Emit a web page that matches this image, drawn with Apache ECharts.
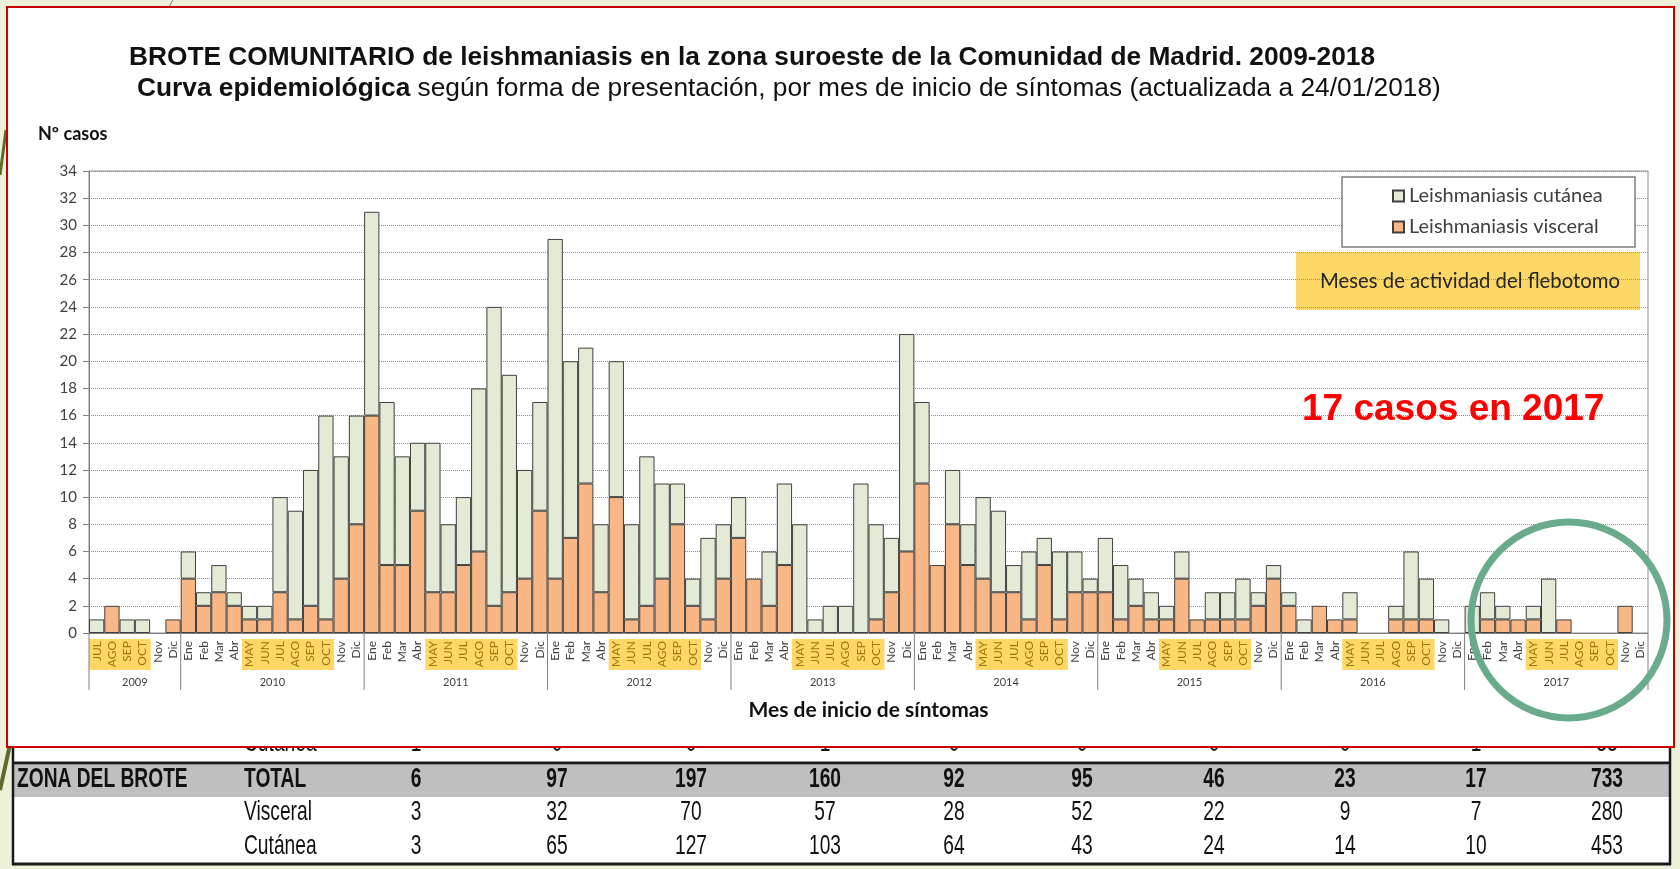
<!DOCTYPE html>
<html>
<head>
<meta charset="utf-8">
<title>Brote comunitario de leishmaniasis</title>
<script src="https://cdn.jsdelivr.net/npm/echarts@6/dist/echarts.min.js"></script>
<style>
html, body { margin: 0; padding: 0; background: #edf1da; }
#main { width: 1680px; height: 869px; }
</style>
</head>
<body>
<div id="main"></div>
<script>
// month labels (2009 starts in July)
var meses2009 = ['JUL', 'AGO', 'SEP', 'OCT', 'Nov', 'Dic'];
var mesesAnio = ['Ene', 'Feb', 'Mar', 'Abr', 'MAY', 'JUN', 'JUL', 'AGO', 'SEP', 'OCT', 'Nov', 'Dic'];
var mesesActividad = ['MAY', 'JUN', 'JUL', 'AGO', 'SEP', 'OCT'];
var anios = ['2009', '2010', '2011', '2012', '2013', '2014', '2015', '2016', '2017'];

// visceral cases per month
var visc2009 = [0, 2, 0, 0, 0, 1];
var visc2010 = [4, 2, 3, 2, 1, 1, 3, 1, 2, 1, 4, 8];
var visc2011 = [16, 5, 5, 9, 3, 3, 5, 6, 2, 3, 4, 9];
var visc2012 = [4, 7, 11, 3, 10, 1, 2, 4, 8, 2, 1, 4];
var visc2013 = [7, 4, 2, 5, 0, 0, 0, 0, 0, 1, 3, 6];
var visc2014 = [11, 5, 8, 5, 4, 3, 3, 1, 5, 1, 3, 3];
var visc2015 = [3, 1, 2, 1, 1, 4, 1, 1, 1, 1, 2, 4];
var visc2016 = [2, 0, 2, 1, 1, 0, 0, 1, 1, 1, 0, 0];
var visc2017 = [0, 1, 1, 1, 1, 0, 1, 0, 0, 0, 2, 0];

// cutaneous cases per month
var cut2009 = [1, 0, 1, 1, 0, 0];
var cut2010 = [2, 1, 2, 1, 1, 1, 7, 8, 10, 15, 9, 8];
var cut2011 = [15, 12, 8, 5, 11, 5, 5, 12, 22, 16, 8, 8];
var cut2012 = [25, 13, 10, 5, 10, 7, 11, 7, 3, 2, 6, 4];
var cut2013 = [3, 0, 4, 6, 8, 1, 2, 2, 11, 7, 4, 16];
var cut2014 = [6, 0, 4, 3, 6, 6, 2, 5, 2, 5, 3, 1];
var cut2015 = [4, 4, 2, 2, 1, 2, 0, 2, 2, 3, 1, 1];
var cut2016 = [1, 1, 0, 0, 2, 0, 0, 1, 5, 3, 1, 0];
var cut2017 = [2, 2, 1, 0, 1, 4, 0, 0, 0, 0, 0, 0];

// table under the chart
var tablaTotal = ['6', '97', '197', '160', '92', '95', '46', '23', '17', '733'];
var tablaVisceral = ['3', '32', '70', '57', '28', '52', '22', '9', '7', '280'];
var tablaCutanea = ['3', '65', '127', '103', '64', '43', '24', '14', '10', '453'];
var tablaOculta = ['1', '0', '0', '1', '0', '0', '0', '0', '1', '33'];

var categorias = meses2009.slice();
var visceral = visc2009.slice();
var cutanea = cut2009.slice();
var viscAnios = [visc2010, visc2011, visc2012, visc2013, visc2014, visc2015, visc2016, visc2017];
var cutAnios = [cut2010, cut2011, cut2012, cut2013, cut2014, cut2015, cut2016, cut2017];
for (var a = 0; a < viscAnios.length; a++) {
	categorias = categorias.concat(mesesAnio);
	visceral = visceral.concat(viscAnios[a]);
	cutanea = cutanea.concat(cutAnios[a]);
}

var toBar = function(v) { return v === 0 ? '-' : v; };
var esActividad = function(i) { return mesesActividad.indexOf(categorias[i]) >= 0; };

var chart = echarts.init(document.getElementById('main'));

var option = {
	backgroundColor: '#edf1da',
	animation: false,
	textStyle: { fontFamily: 'Lato, "Noto Sans", sans-serif' },
	grid: { left: 89, right: 32, top: 171, bottom: 236, show: true, borderColor: '#8c8c8c', borderWidth: 1 },
	legend: {
		data: ['Leishmaniasis cutánea', 'Leishmaniasis visceral'],
		orient: 'vertical',
		left: 1387,
		top: 181,
		itemGap: 11,
		itemWidth: 11,
		itemHeight: 11,
		icon: 'rect',
		z: 6,
		textStyle: { fontSize: 20, color: '#404040' }
	},
	xAxis: {
		type: 'category',
		data: categorias,
		axisLine: { lineStyle: { color: '#808080' } },
		axisTick: { show: false },
		axisLabel: {
			interval: 0,
			rotate: 90,
			fontSize: 12,
			margin: 8,
			color: function(v, i) { return esActividad(i) ? '#a5740a' : '#404040'; }
		},
		name: 'Mes de inicio de síntomas',
		nameLocation: 'middle',
		nameGap: 67,
		nameTextStyle: { fontSize: 21, fontWeight: 'bold', color: '#111' }
	},
	yAxis: {
		type: 'value',
		min: 0,
		max: 34,
		interval: 2,
		axisLine: { show: true, lineStyle: { color: '#808080' } },
		axisTick: { show: true, length: 6, lineStyle: { color: '#808080' } },
		axisLabel: { fontSize: 15, color: '#404040', margin: 12 },
		splitLine: { lineStyle: { type: 'dotted', color: '#8f8f8f' } }
	},
	series: [{
		name: 'Leishmaniasis visceral',
		type: 'bar',
		stack: 'casos',
		barCategoryGap: '0%',
		data: visceral.map(toBar),
		itemStyle: { color: '#f8b784', borderColor: '#404040', borderWidth: 1 }
	}, {
		name: 'Leishmaniasis cutánea',
		type: 'bar',
		stack: 'casos',
		barCategoryGap: '0%',
		data: cutanea.map(toBar),
		itemStyle: { color: '#e3ebd6', borderColor: '#404040', borderWidth: 1 }
	}]
};
chart.setOption(option);

// pixel geometry from the axes
var x0 = chart.convertToPixel({ xAxisIndex: 0 }, 0);
var paso = chart.convertToPixel({ xAxisIndex: 0 }, 1) - x0;
var base = chart.convertToPixel({ yAxisIndex: 0 }, 0);

var arial = '"Liberation Sans", Arial, sans-serif';
var colX = [416, 557, 691, 825, 954, 1082, 1214, 1345, 1476, 1607];
var g = [];

// table (partly hidden by the chart box), narrow text by scaling
g.push({ type: 'rect', z: -4, shape: { x: 13, y: 740, width: 1657, height: 124 }, style: { fill: '#fff' } });
g.push({ type: 'rect', z: -3, shape: { x: 13, y: 765, width: 1657, height: 32 }, style: { fill: '#bfbfbf' } });
g.push({ type: 'line', z: -3, shape: { x1: 13, y1: 763, x2: 1670, y2: 763 }, style: { stroke: '#1a1a1a', lineWidth: 3 } });
g.push({ type: 'line', z: -3, shape: { x1: 12, y1: 864, x2: 1671, y2: 864 }, style: { stroke: '#1a1a1a', lineWidth: 3 } });
g.push({ type: 'line', z: -3, shape: { x1: 13, y1: 740, x2: 13, y2: 865 }, style: { stroke: '#1a1a1a', lineWidth: 2.5 } });
g.push({ type: 'line', z: -3, shape: { x1: 1670, y1: 740, x2: 1670, y2: 865 }, style: { stroke: '#1a1a1a', lineWidth: 2.5 } });
var filaTexto = function(txt, x, y, bold, align) {
	g.push({ type: 'text', z: -3, x: x, y: y, scaleX: 0.8, scaleY: 1.12, style: { text: txt, x: 0, y: 0, fill: '#111', font: (bold ? 'bold ' : '') + '24px ' + arial, textAlign: align, textVerticalAlign: 'middle' } });
};
filaTexto('Cutánea', 244, 744, false, 'left');
filaTexto('ZONA DEL BROTE', 17, 780, true, 'left');
filaTexto('TOTAL', 244, 780, true, 'left');
filaTexto('Visceral', 244, 813, false, 'left');
filaTexto('Cutánea', 244, 847, false, 'left');
for (var k = 0; k < colX.length; k++) {
	filaTexto(tablaOculta[k], colX[k], 744, false, 'center');
	filaTexto(tablaTotal[k], colX[k], 780, true, 'center');
	filaTexto(tablaVisceral[k], colX[k], 813, false, 'center');
	filaTexto(tablaCutanea[k], colX[k], 847, false, 'center');
}

// slide decoration
g.push({ type: 'line', z: -5, shape: { x1: 11, y1: 740, x2: 0, y2: 790 }, style: { stroke: '#5b6b2e', lineWidth: 4 } });
g.push({ type: 'line', z: -5, shape: { x1: 6, y1: 130, x2: 0, y2: 175 }, style: { stroke: '#5b6b2e', lineWidth: 3 } });
g.push({ type: 'line', z: -5, shape: { x1: 173, y1: 0, x2: 169, y2: 7 }, style: { stroke: '#7a7a6a', lineWidth: 1 } });

// white chart box with red border
g.push({ type: 'rect', z: -2, shape: { x: 7, y: 7, width: 1667, height: 740 }, style: { fill: '#fff', stroke: '#c80000', lineWidth: 2 } });

// sandfly activity months under the axis
for (var i = 0; i < categorias.length; i++) {
	if (esActividad(i)) {
		var cx = x0 + i * paso;
		g.push({ type: 'rect', z: -1, shape: { x: cx - paso / 2, y: base + 6, width: paso + 0.6, height: 31 }, style: { fill: '#fdd866' } });
	}
}

// year separators and labels
var inicio = 0;
for (var y = 0; y < anios.length; y++) {
	var n = y === 0 ? meses2009.length : mesesAnio.length;
	var xa = x0 - paso / 2 + inicio * paso;
	var xb = xa + n * paso;
	g.push({ type: 'line', z: 3, shape: { x1: xa, y1: base, x2: xa, y2: base + 57 }, style: { stroke: '#808080', lineWidth: 1 } });
	g.push({ type: 'text', z: 3, style: { text: anios[y], x: (xa + xb) / 2, y: base + 49, fill: '#404040', font: '11px Lato, sans-serif', textAlign: 'center', textVerticalAlign: 'middle' } });
	inicio += n;
	if (y === anios.length - 1) {
		g.push({ type: 'line', z: 3, shape: { x1: xb, y1: base, x2: xb, y2: base + 57 }, style: { stroke: '#808080', lineWidth: 1 } });
	}
}

// titles
g.push({ type: 'text', z: 10, style: { text: 'BROTE COMUNITARIO de leishmaniasis en la zona suroeste de la Comunidad de Madrid. 2009-2018', x: 129, y: 58, fill: '#111', font: 'bold 26.3px ' + arial, textVerticalAlign: 'middle' } });
g.push({ type: 'text', z: 10, style: {
	text: '{b|Curva epidemiológica} según forma de presentación, por mes de inicio de síntomas (actualizada a 24/01/2018)',
	x: 137, y: 89, fill: '#111', font: '26.3px ' + arial, textVerticalAlign: 'middle',
	rich: { b: { fontWeight: 'bold', fontSize: 26.3, fontFamily: arial, fill: '#111' } }
} });
g.push({ type: 'text', z: 10, style: { text: 'Nº casos', x: 38, y: 134, fill: '#111', font: 'bold 18px Lato, sans-serif', textVerticalAlign: 'middle' } });

// legend box
g.push({ type: 'rect', z: 5, shape: { x: 1342, y: 177, width: 293, height: 70 }, style: { fill: '#fff', stroke: '#7f7f7f', lineWidth: 1.5 } });

// activity box
g.push({ type: 'rect', z: -1, shape: { x: 1296, y: 252, width: 344, height: 58 }, style: { fill: '#fdd866' } });
g.push({ type: 'text', z: 10, style: { text: 'Meses de actividad del flebotomo', x: 1470, y: 281, fill: '#262626', font: '20.3px Lato, sans-serif', textAlign: 'center', textVerticalAlign: 'middle' } });

// annotation and circle
g.push({ type: 'text', z: 10, style: { text: '17 casos en 2017', x: 1302, y: 410, fill: '#ff0000', font: 'bold 37px ' + arial, textVerticalAlign: 'middle' } });
g.push({ type: 'circle', z: 10, shape: { cx: 1569, cy: 620, r: 98 }, style: { fill: 'none', stroke: '#6aab8c', lineWidth: 7 } });

chart.setOption({ graphic: g });
</script>
</body>
</html>
